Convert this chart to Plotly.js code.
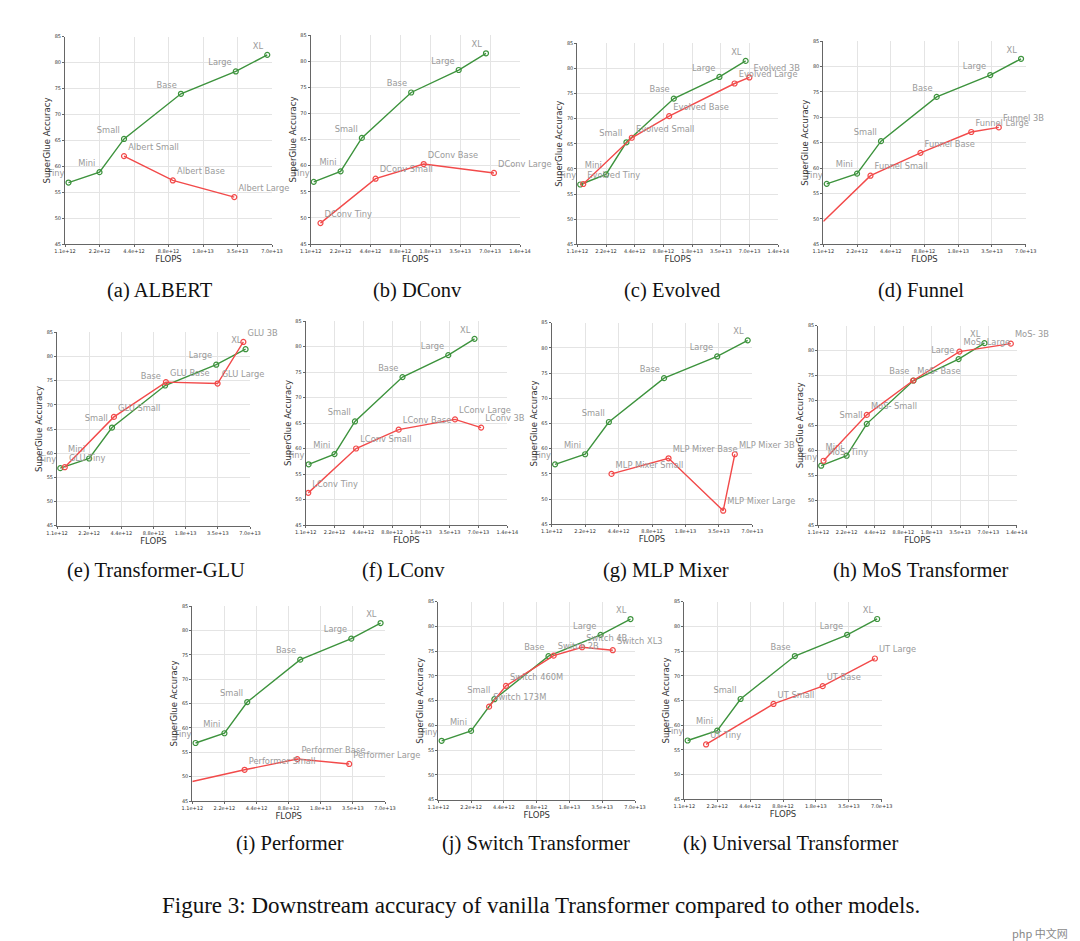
<!DOCTYPE html>
<html>
<head>
<meta charset="utf-8">
<script src="https://cdn.plot.ly/plotly-3.0.1.min.js"></script>
<style>html,body{margin:0;padding:0;background:#fff;}#chart{width:1080px;height:941px;}</style>
</head>
<body>
<div id="chart"></div>
<script>
// ---------- data ----------
const tickVals = [1.1e12, 2.2e12, 4.4e12, 8.8e12, 1.76e13, 3.52e13, 7.04e13, 1.408e14];
const tickText = ['1.1e+12', '2.2e+12', '4.4e+12', '8.8e+12', '1.8e+13', '3.5e+13', '7.0e+13', '1.4e+14'];

const vanillaLabels = ['Tiny', 'Mini', 'Small', 'Base', 'Large', 'XL'];
const vanillaFlops = [1.18e12, 2.2e12, 3.6e12, 1.13e13, 3.4e13, 6.4e13];
const vanillaAcc = [56.9, 58.9, 65.3, 74.0, 78.3, 81.5];

const albertLabels = ['Albert Small', 'Albert Base', 'Albert Large'];
const albertFlops = [3.6e12, 9.6e12, 3.3e13];
const albertAcc = [62.0, 57.3, 54.1];

const dconvLabels = ['DConv Tiny', 'DConv Small', 'DConv Base', 'DConv Large'];
const dconvFlops = [1.38e12, 4.95e12, 1.51e13, 7.7e13];
const dconvAcc = [49.0, 57.5, 60.3, 58.6];

const evolvedLabels = ['Evolved Tiny', 'Evolved Small', 'Evolved Base', 'Evolved Large', 'Evolved 3B'];
const evolvedFlops = [1.27e12, 4.1e12, 1.01e13, 4.9e13, 7.0e13];
const evolvedAcc = [57.0, 66.2, 70.5, 77.0, 78.2];

const funnelLabels = ['Funnel Tiny', 'Funnel Small', 'Funnel Base', 'Funnel Large', 'Funnel 3B'];
const funnelFlops = [1.1e12, 2.9e12, 8.1e12, 2.3e13, 4.05e13];
const funnelAcc = [49.5, 58.5, 63.0, 67.1, 68.0];

const gluLabels = ['GLU Tiny', 'GLU Small', 'GLU Base', 'GLU Large', 'GLU 3B'];
const gluFlops = [1.3e12, 3.75e12, 1.15e13, 3.5e13, 6.1e13];
const gluAcc = [57.1, 67.5, 74.7, 74.4, 83.0];

const lconvLabels = ['LConv Tiny', 'LConv Small', 'LConv Base', 'LConv Large', 'LConv 3B'];
const lconvFlops = [1.17e12, 3.7e12, 1.03e13, 4.0e13, 7.5e13];
const lconvAcc = [51.3, 60.0, 63.7, 65.7, 64.1];

const mlpLabels = ['MLP Mixer Small', 'MLP Mixer Base', 'MLP Mixer Large', 'MLP Mixer 3B'];
const mlpFlops = [3.8e12, 1.24e13, 3.85e13, 4.9e13];
const mlpAcc = [55.0, 58.1, 47.7, 58.9];

const mosLabels = ['MoS- Tiny', 'MoS- Small', 'MoS- Base', 'MoS- Large', 'MoS- 3B'];
const mosFlops = [1.25e12, 3.6e12, 1.12e13, 3.47e13, 1.22e14];
const mosAcc = [57.9, 67.1, 74.0, 79.8, 81.4];

const performerLabels = ['Performer Tiny', 'Performer Small', 'Performer Base', 'Performer Large'];
const performerFlops = [1.1e12, 3.4e12, 1.06e13, 3.25e13];
const performerAcc = [49.0, 51.4, 53.6, 52.6];

const switchLabels = ['Switch 173M', 'Switch 460M', 'Switch 2B', 'Switch 4B', 'Switch XL3'];
const switchFlops = [3.22e12, 4.6e12, 1.26e13, 2.3e13, 4.4e13];
const switchAcc = [63.8, 68.0, 74.1, 75.8, 75.2];

const utLabels = ['UT Tiny', 'UT Small', 'UT Base', 'UT Large'];
const utFlops = [1.74e12, 7.2e12, 2.03e13, 6.1e13];
const utAcc = [56.1, 64.3, 67.9, 73.5];

const captions = ['(a) ALBERT', '(b) DConv', '(c) Evolved', '(d) Funnel', '(e) Transformer-GLU', '(f) LConv',
  '(g) MLP Mixer', '(h) MoS Transformer', '(i) Performer', '(j) Switch Transformer', '(k) Universal Transformer'];
const figureCaption = 'Figure 3: Downstream accuracy of vanilla Transformer compared to other models.';

// ---------- layout config ----------
const W = 1080, H = 941;
const GREEN = '#3d933d', RED = '#f24a4a';
const panels = [
  {lab: albertLabels, fl: albertFlops, acc: albertAcc, xmax: 7.04e13, box: [65, 272, 36.7, 244.3], cap: [160, 290]},
  {lab: dconvLabels, fl: dconvFlops, acc: dconvAcc, xmax: 1.408e14, box: [310.7, 520, 35, 244], cap: [417, 290]},
  {lab: evolvedLabels, fl: evolvedFlops, acc: evolvedAcc, xmax: 1.408e14, box: [577.3, 778.3, 43.3, 244.3], cap: [672, 290]},
  {lab: funnelLabels, fl: funnelFlops, acc: funnelAcc, xmax: 7.04e13, box: [823.3, 1025.7, 41, 244.3], cap: [921, 290]},
  {lab: gluLabels, fl: gluFlops, acc: gluAcc, xmax: 7.04e13, box: [57, 250, 332.3, 525.7], cap: [156, 570]},
  {lab: lconvLabels, fl: lconvFlops, acc: lconvAcc, xmax: 1.408e14, box: [305.7, 507.3, 321, 525], cap: [403, 570]},
  {lab: mlpLabels, fl: mlpFlops, acc: mlpAcc, xmax: 7.04e13, box: [551.7, 752.3, 322.7, 524.3], cap: [666, 570]},
  {lab: mosLabels, fl: mosFlops, acc: mosAcc, xmax: 1.408e14, box: [818.3, 1016.7, 325.7, 525], cap: [921, 570]},
  {lab: performerLabels, fl: performerFlops, acc: performerAcc, xmax: 7.04e13, box: [192.3, 385, 606, 801], cap: [290, 843]},
  {lab: switchLabels, fl: switchFlops, acc: switchAcc, xmax: 7.04e13, box: [438.3, 635, 601.7, 799.7], cap: [536, 843]},
  {lab: utLabels, fl: utFlops, acc: utAcc, xmax: 7.04e13, box: [684.3, 881.7, 601.7, 799.3], cap: [790, 843]}
];

const traces = [];
const layout = {
  width: W, height: H,
  margin: {l: 0, r: 0, t: 0, b: 0},
  paper_bgcolor: '#fff', plot_bgcolor: '#fff',
  showlegend: false,
  font: {family: 'DejaVu Sans', color: '#333'},
  annotations: []
};

const labelFont = {family: 'DejaVu Sans', size: 8.3, color: '#9a9a9a'};

panels.forEach((p, i) => {
  const n = i + 1;
  const xa = 'x' + (n === 1 ? '' : n), ya = 'y' + (n === 1 ? '' : n);
  const xk = 'xaxis' + (n === 1 ? '' : n), yk = 'yaxis' + (n === 1 ? '' : n);
  traces.push({
    x: vanillaFlops, y: vanillaAcc, text: vanillaLabels, xaxis: xa, yaxis: ya,
    type: 'scatter', mode: 'lines+markers+text', textposition: 'top left', cliponaxis: false,
    line: {color: GREEN, width: 1.4},
    marker: {symbol: 'circle-open', size: 5, color: GREEN, line: {width: 1.2}},
    textfont: labelFont, hoverinfo: 'x+y+text'
  });
  traces.push({
    x: p.fl, y: p.acc, text: p.lab, xaxis: xa, yaxis: ya,
    type: 'scatter', mode: 'lines+markers+text', textposition: 'top right', cliponaxis: false,
    line: {color: RED, width: 1.4},
    marker: {symbol: 'circle-open', size: 5, color: RED, line: {width: 1.2}},
    textfont: labelFont, hoverinfo: 'x+y+text'
  });
  const nT = p.xmax > 1e14 ? 8 : 7;
  layout[xk] = {
    domain: [p.box[0] / W, p.box[1] / W], anchor: ya,
    type: 'log', range: [Math.log10(1.1e12), Math.log10(p.xmax)],
    tickmode: 'array', tickvals: tickVals.slice(0, nT), ticktext: tickText.slice(0, nT),
    tickangle: 0, tickfont: {size: 5, color: '#333', family: 'DejaVu Sans'},
    ticks: 'outside', ticklen: 2, tickcolor: '#666',
    showgrid: true, gridcolor: '#e4e4e4', gridwidth: 1,
    showline: true, linecolor: '#666', linewidth: 1,
    zeroline: false, automargin: false,
    title: {text: 'FLOPS', font: {size: 8.5, color: '#333', family: 'DejaVu Sans'}, standoff: 2}
  };
  layout[yk] = {
    domain: [1 - p.box[3] / H, 1 - p.box[2] / H], anchor: xa,
    range: [45, 85], tickmode: 'linear', tick0: 45, dtick: 5,
    tickfont: {size: 5, color: '#333', family: 'DejaVu Sans'},
    ticks: 'outside', ticklen: 2, tickcolor: '#666',
    showgrid: true, gridcolor: '#e4e4e4', gridwidth: 1,
    showline: true, linecolor: '#666', linewidth: 1,
    zeroline: false, automargin: false,
    title: {text: 'SuperGlue Accuracy', font: {size: 8.5, color: '#333', family: 'DejaVu Sans'}, standoff: 2}
  };
  layout.annotations.push({
    text: captions[i], xref: 'paper', yref: 'paper', x: p.cap[0] / W, y: 1 - p.cap[1] / H,
    xanchor: 'center', yanchor: 'middle', showarrow: false,
    font: {family: 'Liberation Serif', size: 20.5, color: '#111'}
  });
});

layout.annotations.push({
  text: figureCaption, xref: 'paper', yref: 'paper', x: 541 / W, y: 1 - 905 / H,
  xanchor: 'center', yanchor: 'middle', showarrow: false,
  font: {family: 'Liberation Serif', size: 23, color: '#111'}
});
layout.annotations.push({
  text: 'php 中文网', xref: 'paper', yref: 'paper', x: 1040 / W, y: 1 - 933 / H,
  xanchor: 'center', yanchor: 'middle', showarrow: false,
  font: {family: 'Noto Sans CJK SC', size: 11, color: '#555'}, opacity: 0.7
});

Plotly.newPlot('chart', traces, layout, {staticPlot: true, displayModeBar: false});
</script>
</body>
</html>
